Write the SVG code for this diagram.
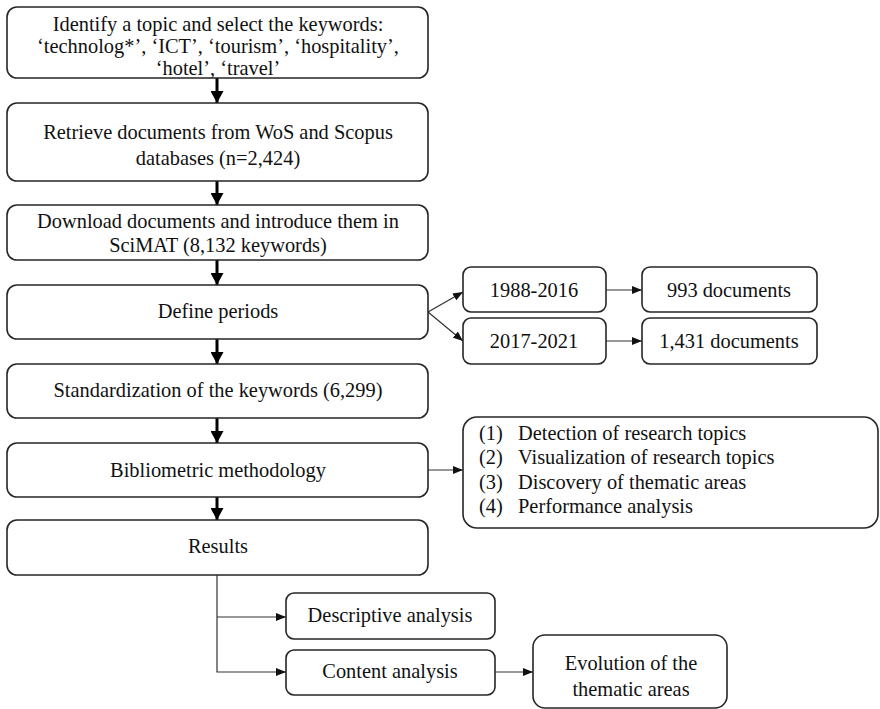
<svg xmlns="http://www.w3.org/2000/svg" width="880" height="709" viewBox="0 0 880 709">
<defs>
<style>
.box{fill:#fff;stroke:#262626;stroke-width:1.6}
.t{font-family:"Liberation Serif","Times New Roman",serif;font-size:20.4px;fill:#111;text-anchor:middle}
.tl{font-family:"Liberation Serif","Times New Roman",serif;font-size:20.4px;fill:#111}
.thick{stroke:#000;stroke-width:3;fill:none}
.thin{stroke:#333;stroke-width:1.2;fill:none}
</style>
<marker id="big" viewBox="0 0 12 13" refX="12" refY="6.5" markerWidth="12" markerHeight="13" markerUnits="userSpaceOnUse" orient="auto">
<path d="M0,0 L12,6.5 L0,13 Z" fill="#000"/>
</marker>
<marker id="sm" viewBox="0 0 10 8" refX="10" refY="4" markerWidth="10" markerHeight="8" markerUnits="userSpaceOnUse" orient="auto">
<path d="M0,0 L10,4 L0,8 Z" fill="#111"/>
</marker>
</defs>
<rect width="880" height="709" fill="#fff"/>
<g id="connectors">
<line class="thick" x1="217" y1="78" x2="217" y2="103" marker-end="url(#big)"/>
<line class="thick" x1="217" y1="181" x2="217" y2="205" marker-end="url(#big)"/>
<line class="thick" x1="217" y1="260" x2="217" y2="285" marker-end="url(#big)"/>
<line class="thick" x1="217" y1="339" x2="217" y2="364" marker-end="url(#big)"/>
<line class="thick" x1="217" y1="418" x2="217" y2="443" marker-end="url(#big)"/>
<line class="thick" x1="217" y1="497" x2="217" y2="520" marker-end="url(#big)"/>
<line class="thin" x1="428" y1="312" x2="463" y2="292" marker-end="url(#sm)"/>
<line class="thin" x1="428" y1="312" x2="463" y2="341" marker-end="url(#sm)"/>
<line class="thin" x1="606" y1="290" x2="642" y2="290" marker-end="url(#sm)"/>
<line class="thin" x1="606" y1="341" x2="642" y2="341" marker-end="url(#sm)"/>
<line class="thin" x1="428" y1="470" x2="463" y2="470" marker-end="url(#sm)"/>
<path class="thin" d="M217,575 V672 H286" marker-end="url(#sm)"/>
<line class="thin" x1="217" y1="617" x2="286" y2="617" marker-end="url(#sm)"/>
<line class="thin" x1="495" y1="672" x2="533" y2="672" marker-end="url(#sm)"/>
</g>
<g id="n1"><rect class="box" x="7" y="7" width="421" height="71" rx="10"/>
<text class="t" x="218" y="31">Identify a topic and select the keywords:</text>
<text class="t" x="218" y="53">‘technolog*’, ‘ICT’, ‘tourism’, ‘hospitality’,</text>
<text class="t" x="218" y="75">‘hotel’, ‘travel’</text></g>
<g id="n2"><rect class="box" x="7" y="103" width="421" height="78" rx="10"/>
<text class="t" x="218" y="139">Retrieve documents from WoS and Scopus</text>
<text class="t" x="218" y="165">databases (n=2,424)</text></g>
<g id="n3"><rect class="box" x="7" y="205" width="421" height="55" rx="10"/>
<text class="t" x="218" y="228">Download documents and introduce them in</text>
<text class="t" x="218" y="252">SciMAT (8,132 keywords)</text></g>
<g id="n4"><rect class="box" x="7" y="285" width="421" height="54" rx="10"/>
<text class="t" x="218" y="318">Define periods</text></g>
<g id="n5"><rect class="box" x="7" y="364" width="421" height="54" rx="10"/>
<text class="t" x="218" y="397">Standardization of the keywords (6,299)</text></g>
<g id="n6"><rect class="box" x="7" y="443" width="421" height="54" rx="10"/>
<text class="t" x="218" y="477">Bibliometric methodology</text></g>
<g id="n7"><rect class="box" x="7" y="520" width="421" height="55" rx="10"/>
<text class="t" x="218" y="553">Results</text></g>
<g id="p1"><rect class="box" x="463" y="267" width="143" height="45" rx="8"/>
<text class="t" x="534" y="297">1988-2016</text></g>
<g id="p2"><rect class="box" x="463" y="318" width="143" height="46" rx="8"/>
<text class="t" x="534" y="348">2017-2021</text></g>
<g id="d1"><rect class="box" x="642" y="267" width="175" height="45" rx="8"/>
<text class="t" x="729" y="297">993 documents</text></g>
<g id="d2"><rect class="box" x="642" y="318" width="175" height="46" rx="8"/>
<text class="t" x="729" y="348">1,431 documents</text></g>
<g id="list"><rect class="box" x="463" y="417" width="415" height="111" rx="14"/>
<text class="tl" x="479" y="440">(1)</text><text class="tl" x="518" y="440">Detection of research topics</text>
<text class="tl" x="479" y="464">(2)</text><text class="tl" x="518" y="464">Visualization of research topics</text>
<text class="tl" x="479" y="489">(3)</text><text class="tl" x="518" y="489">Discovery of thematic areas</text>
<text class="tl" x="479" y="513">(4)</text><text class="tl" x="518" y="513">Performance analysis</text></g>
<g id="desc"><rect class="box" x="286" y="593" width="209" height="46" rx="8"/>
<text class="t" x="390" y="622">Descriptive analysis</text></g>
<g id="cont"><rect class="box" x="286" y="650" width="209" height="45" rx="8"/>
<text class="t" x="390" y="678">Content analysis</text></g>
<g id="evol"><rect class="box" x="533" y="635" width="194" height="73" rx="12"/>
<text class="t" x="631" y="670">Evolution of the</text>
<text class="t" x="631" y="696">thematic areas</text></g>
</svg>
